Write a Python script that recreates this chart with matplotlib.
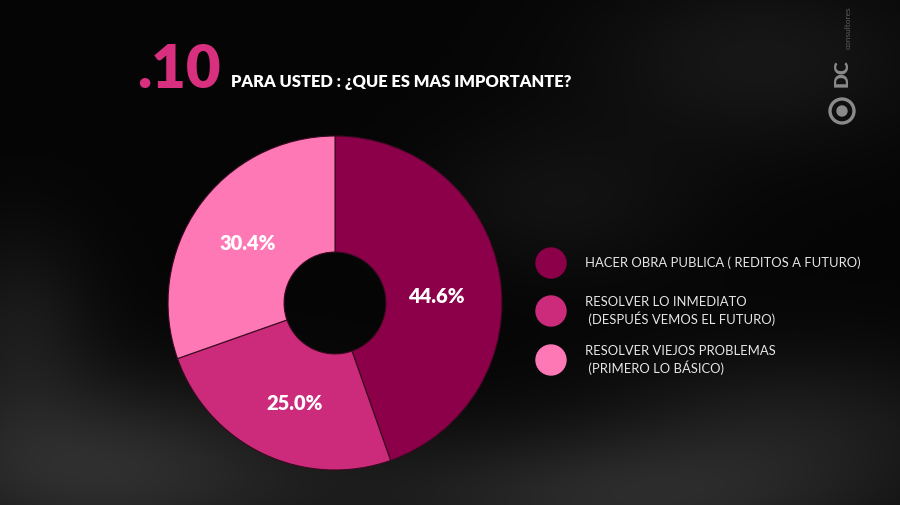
import numpy as np
import matplotlib.pyplot as plt
from matplotlib.patches import Circle

# datos
categorias = ["HACER OBRA PUBLICA ( REDITOS A FUTURO)",
              "RESOLVER LO INMEDIATO\n (DESPUÉS VEMOS EL FUTURO)",
              "RESOLVER VIEJOS PROBLEMAS\n (PRIMERO LO BÁSICO)"]
valores = [44.6, 25.0, 30.4]
etiquetas = ["44.6%", "25.0%", "30.4%"]
colores = ["#8c0049", "#cc2b7b", "#ff78b6"]

titulo_num = ".10"
titulo = "PARA USTED : ¿QUE ES MAS IMPORTANTE?"

plt.rcParams['font.family'] = ['Lato', 'DejaVu Sans']

fig = plt.figure(figsize=(9, 5.05), dpi=100)
fig.patch.set_facecolor("#060606")

# fondo oscuro con algo de "humo" gris
bg = fig.add_axes([0, 0, 1, 1])
yy, xx = np.mgrid[0:505, 0:900]
humo = (0.16 * np.exp(-((xx - 100) ** 2 / 50000 + (yy - 470) ** 2 / 8000))
        + 0.14 * np.exp(-((xx - 620) ** 2 / 70000 + (yy - 500) ** 2 / 5000))
        + 0.08 * np.exp(-((xx - 800) ** 2 / 40000 + (yy - 420) ** 2 / 6000))
        + 0.07 * np.exp(-((xx - 760) ** 2 / 30000 + (yy - 60) ** 2 / 8000))
        + 0.08 * np.exp(-((xx - 20) ** 2 / 6000 + (yy - 330) ** 2 / 10000))
        + 0.05 * np.exp(-((xx - 560) ** 2 / 20000 + (yy - 200) ** 2 / 6000)))
base = 0.02 + humo
bg.imshow(np.dstack([base, base, base]).clip(0, 1), extent=[0, 900, 505, 0], aspect='auto')
bg.set_xlim(0, 900)
bg.set_ylim(505, 0)
bg.axis('off')

# dona
ax = fig.add_axes([168 / 900, 35 / 505, 334 / 900, 334 / 505])
wedges, _ = ax.pie(valores, colors=colores, startangle=90, counterclock=False,
                   radius=1.0, wedgeprops=dict(width=0.695, edgecolor="#3a0a20", linewidth=0.8))
ax.set_aspect('equal')
ax.set_xlim(-1, 1)
ax.set_ylim(-1, 1)

# etiquetas de porcentaje (radio y giro respecto al centro de cada porción)
lab_r = [0.61, 0.65, 0.63]
lab_giro = [-6.3, 3.5, 1.0]
for w, lab, r, g in zip(wedges, etiquetas, lab_r, lab_giro):
    mid = np.deg2rad((w.theta1 + w.theta2) / 2 + g)
    ax.text(r * np.cos(mid), r * np.sin(mid), lab, ha='center', va='center',
            color='white', fontsize=14.5, fontweight='heavy')

# titulo
fig.text(137 / 900, 1 - 88 / 505, titulo_num, color="#d8307f", fontsize=43,
         fontweight='heavy', ha='left', va='baseline')
fig.text(231 / 900, 1 - 87 / 505, titulo, color='white', fontsize=11.9,
         fontweight='heavy', ha='left', va='baseline')

# leyenda
ley_y = [263, 311, 360]
for c, cat, y in zip(colores, categorias, ley_y):
    bg.add_patch(Circle((551, y), 15, color=c))
    bg.text(585, y, cat, color="#e6e6e6", fontsize=9.4, ha='left', va='center',
            linespacing=1.3)

# logo
bg.add_patch(Circle((842, 111), 12, fill=False, edgecolor="#8a8a8a", linewidth=2.4))
bg.add_patch(Circle((842, 111), 5, color="#8a8a8a"))
bg.text(842, 73, "DC", color="#8a8a8a", fontsize=14, fontweight='heavy',
        rotation=90, ha='center', va='center')
bg.text(848, 28, "consultores", color="#5e5e5e", fontsize=6,
        rotation=90, ha='center', va='center')

fig.savefig("out.png", dpi=100, facecolor=fig.get_facecolor())
